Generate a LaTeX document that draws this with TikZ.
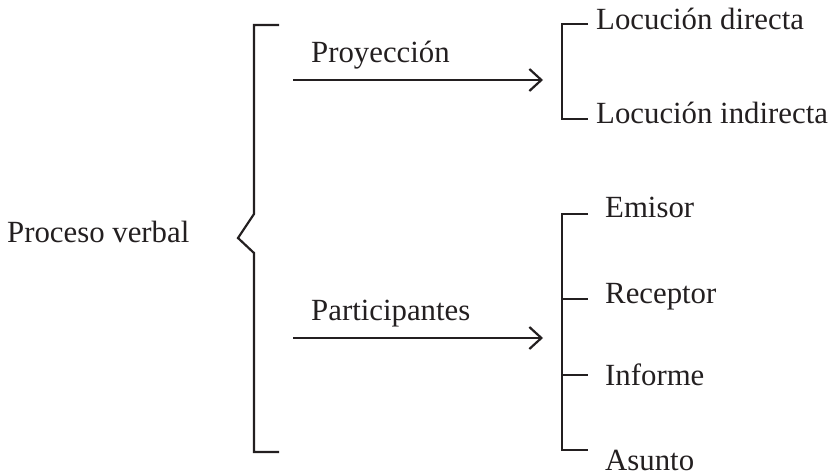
\documentclass[tikz,border=0pt]{standalone}
\usepackage{fontspec}
\setmainfont{Liberation Serif}
\usetikzlibrary{arrows.meta}
\definecolor{ink}{HTML}{231F20}
\begin{document}
\begin{tikzpicture}[x=1pt,y=-1pt,
  line/.style={draw=ink,line width=2.2pt},
  arr/.style={line, -{Straight Barb[length=12pt,width=22pt,line width=2.2pt]}},
  lbl/.style={anchor=base west,inner sep=0pt,text=ink,font=\fontsize{30.8}{36}\selectfont}]
\useasboundingbox (0,0) rectangle (830,476);

% main label and big bracket
\node[lbl] (pv) at (7,242) {Proceso verbal};
\coordinate (bt) at (279,25);
\coordinate (bb) at (279,452);
\draw[line] (bt) -- (254,25) -- (254,214) -- (238,238) -- (254,253) -- (254,452) -- (bb);

% arrows with their labels
\coordinate (a1s) at (293,80);
\coordinate (a1e) at (543,80);
\coordinate (a2s) at (293,338);
\coordinate (a2e) at (543,338);
\draw[arr] (a1s) -- (a1e);
\draw[arr] (a2s) -- (a2e);
\node[lbl] (proy) at (311,63) {Proyección};
\node[lbl] (part) at (311,320) {Participantes};

% upper bracket: projection types
\node[lbl] (ld) at (596,30) {Locución directa};
\node[lbl] (li) at (596,124) {Locución indirecta};
\coordinate (u1) at (588,24);
\coordinate (u2) at (588,119);
\draw[line] (u1) -- (562,24) -- (562,119) -- (u2);

% lower bracket: participants
\node[lbl] (em) at (605,217) {Emisor};
\node[lbl] (re) at (605,303) {Receptor};
\node[lbl] (in) at (605,385) {Informe};
\node[lbl] (as) at (605,470) {Asunto};
\coordinate (p1) at (588,214);
\coordinate (p2) at (588,299);
\coordinate (p3) at (588,375);
\coordinate (p4) at (588,450);
\draw[line] (p1) -- (562,214) -- (562,450) -- (p4);
\draw[line] (562,299) -- (p2);
\draw[line] (562,375) -- (p3);
\end{tikzpicture}
\end{document}
